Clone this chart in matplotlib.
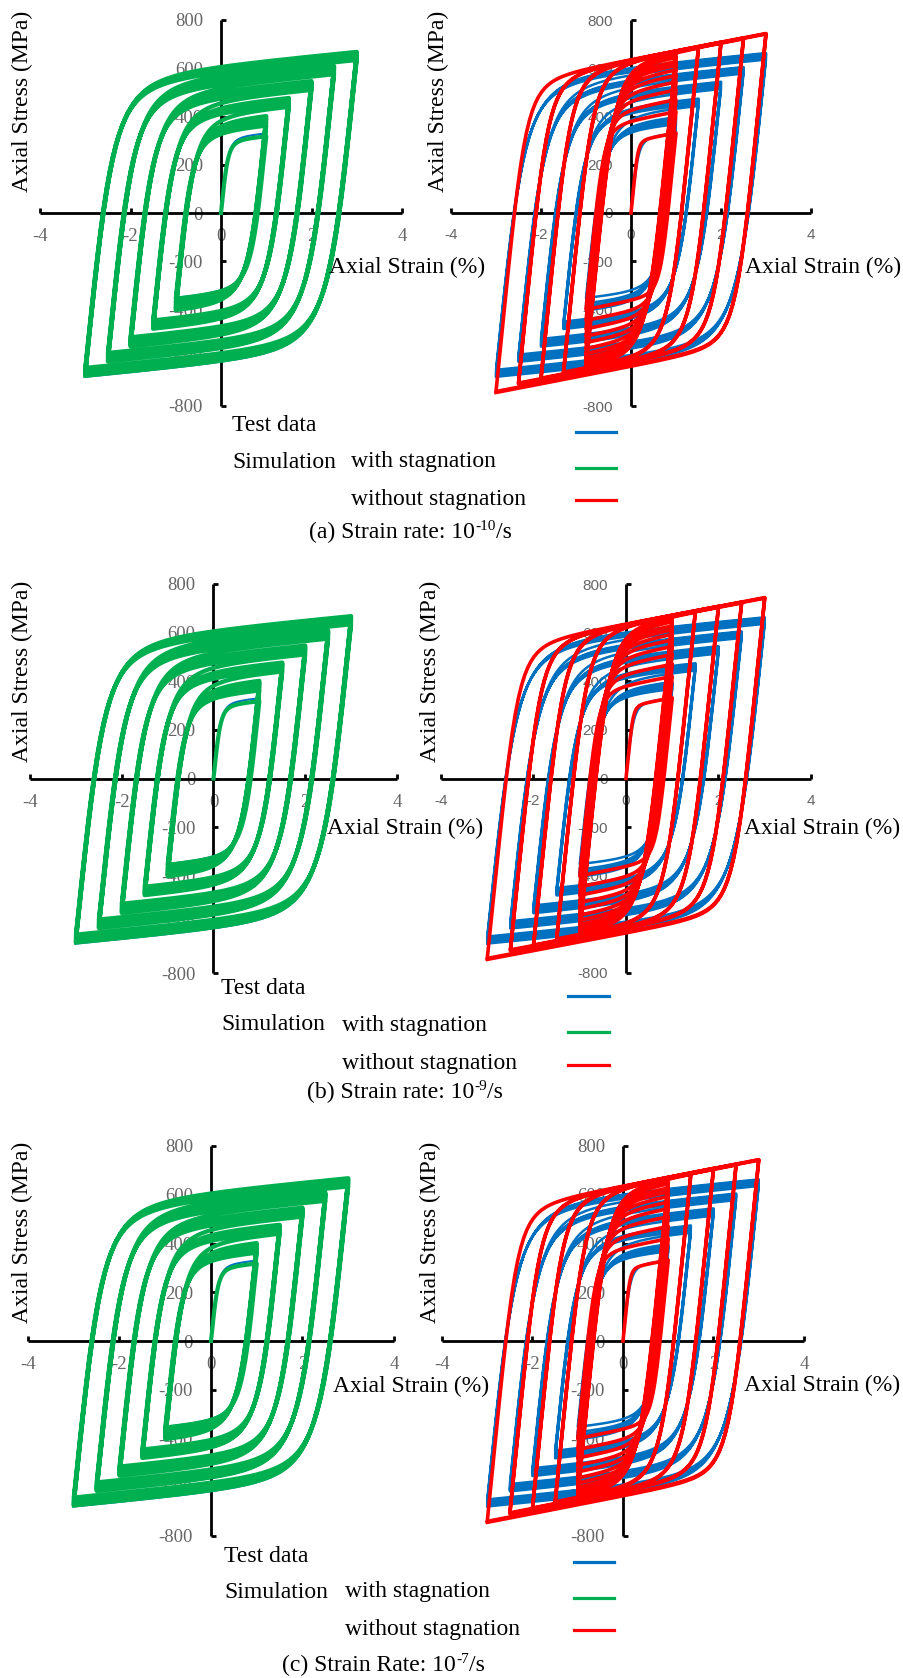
import numpy as np
import matplotlib
matplotlib.use('Agg')
import matplotlib.pyplot as plt
from matplotlib.lines import Line2D

W, H = 904, 1678

STRAIN_AMPS = [1.0, 1.5, 2.0, 2.5, 3.0]

TEST_TENS = [[330, 368, 378, 386, 392, 397],
             [444, 453, 460, 466, 470, 474],
             [514, 523, 530, 536, 540, 544],
             [578, 587, 593, 598, 602, 605],
             [636, 645, 651, 656, 660, 663]]
TEST_COMP = [[-352, -374, -385, -393, -399, -404],
             [-450, -460, -467, -473, -477, -481],
             [-522, -532, -539, -545, -550, -554],
             [-587, -597, -604, -609, -613, -617],
             [-650, -660, -666, -671, -675, -679]]

STAG_TENS = [[318, 362, 375, 386, 395, 402],
             [440, 450, 459, 466, 472, 477],
             [510, 520, 529, 536, 542, 547],
             [575, 585, 593, 600, 605, 609],
             [634, 644, 652, 658, 663, 668]]
STAG_COMP = [[-355, -370, -381, -390, -397, -403],
             [-445, -455, -464, -471, -476, -480],
             [-515, -526, -535, -542, -548, -553],
             [-580, -590, -598, -605, -611, -615],
             [-642, -651, -659, -665, -670, -675]]

NOSTAG_TENS = [[332, 420, 470, 510, 543, 570, 593, 612, 628, 645, 658],
               [684, 688],
               [705, 708],
               [722, 725],
               [742, 744]]
NOSTAG_COMP = [[-400, -445, -480, -510, -537, -562, -583, -600, -615, -628, -638],
               [-660, -664],
               [-685, -688],
               [-705, -708],
               [-740, -744]]

X_TICKS = [-4, -2, 0, 2, 4]
X_TICK_LABELS = ['-4', '-2', '0', '2', '4']
Y_TICKS = [-800, -600, -400, -200, 0, 200, 400, 600, 800]
Y_TICK_LABELS = ['-800', '-600', '-400', '-200', '0', '200', '400', '600', '800']

CAPTIONS = [('(a) Strain rate: 10', '-10', '/s'),
            ('(b) Strain rate: 10', '-9', '/s'),
            ('(c) Strain Rate: 10', '-7', '/s')]

BLUE, GREEN, RED = '#0070C0', '#00B050', '#FF0000'
SERIF = 'Liberation Serif'
SANS = 'Liberation Sans'

# layout in pixels: (x at -4, x at 4, y at 800, y at -800)
LEFT_BOX = [(40, 402, 20, 406), (30, 397, 584, 973), (28, 394, 1146, 1536)]
RIGHT_BOX = [(451, 811, 20, 406), (441, 811, 584, 973), (442, 804, 1146, 1536)]
RIGHT_TICK_FONT = [SANS, SANS, SERIF]
YLAB = [((22, 101), (438, 101)), ((22, 671), (430, 671)), ((22, 1232), (430, 1232))]
XLAB = [((329, 267), (745, 267)), ((327, 828), (744, 828)), ((333, 1386), (744, 1385))]
LEG_TEXT_X = [(232, 351), (221, 342), (224, 345)]
LEG_TEXT_Y = [(425, 462, 499), (988, 1025, 1063), (1556, 1592, 1629)]
LEG_LINE_X = [(576, 616), (568, 609), (574, 614)]
LEG_LINE_Y = [(432, 468, 500), (996, 1032, 1065), (1562, 1598, 1630)]
CAP_POS = [(309, 538), (307, 1098), (282, 1671)]


def branch(e0, s0, e1, s1, E, Eh, R, n=90):
    # Menegotto-Pinto shaped branch between two reversal points
    dt = abs(e1 - e0)
    st = abs(s1 - s0)
    Q = max(st - Eh * dt, 1.0)
    d = np.linspace(0, dt, n)
    x = (E - Eh) * d / Q
    f = Eh * d + Q * x / (1 + x ** R) ** (1.0 / R)
    f = f * st / f[-1]
    sg = np.sign(e1 - e0)
    return e0 + sg * d, s0 + sg * f


def hysteresis(amps, tens, comp, E, Eh, R):
    e, s = [0.0], [0.0]
    for a, tl, cl in zip(amps, tens, comp):
        for t, c in zip(tl, cl):
            for et, stt in ((a, t), (-a, c)):
                xe, ys = branch(e[-1], s[-1], et, stt, E, Eh, R)
                e.extend(xe[1:])
                s.extend(ys[1:])
    return np.array(e), np.array(s)


def fx(x):
    return x / W


def fy(y):
    return 1 - y / H


def make_axes(fig, box, font):
    x0, x1, y0, y1 = box
    ax = fig.add_axes([x0 / W, 1 - y1 / H, (x1 - x0) / W, (y1 - y0) / H])
    ax.patch.set_visible(False)
    ax.set_xlim(-4, 4)
    ax.set_ylim(-800, 800)
    for sp in ['top', 'right']:
        ax.spines[sp].set_visible(False)
    for sp in ['left', 'bottom']:
        ax.spines[sp].set_position(('data', 0))
        ax.spines[sp].set_linewidth(2)
        ax.spines[sp].set_capstyle('butt')
    ax.set_xticks(X_TICKS)
    ax.set_yticks(Y_TICKS)
    size = 13.5 if font == SERIF else 11
    ax.set_xticklabels(X_TICK_LABELS, fontfamily=font, fontsize=size)
    ax.set_yticklabels(Y_TICK_LABELS, fontfamily=font, fontsize=size)
    ax.tick_params(direction='in', length=3.5, width=2, color='k',
                   labelcolor='#666666')
    ax.tick_params(axis='x', pad=11)
    ax.tick_params(axis='y', pad=13)
    return ax


def main():
    e_t, s_t = hysteresis(STRAIN_AMPS, TEST_TENS, TEST_COMP, 1800, 18, 2.6)
    e_g, s_g = hysteresis(STRAIN_AMPS, STAG_TENS, STAG_COMP, 1800, 18, 2.6)
    e_r, s_r = hysteresis(STRAIN_AMPS, NOSTAG_TENS, NOSTAG_COMP, 1850, 36, 4.0)

    fig = plt.figure(figsize=(W / 100, H / 100), dpi=100)
    renderer = fig.canvas.get_renderer()
    tk = dict(fontsize=17, family=SERIF)

    for r in range(3):
        axl = make_axes(fig, LEFT_BOX[r], SERIF)
        axl.plot(e_t, s_t, color=BLUE, lw=1.5, zorder=3, clip_on=False)
        axl.plot(e_g, s_g, color=GREEN, lw=3.0, zorder=3, clip_on=False)

        axr = make_axes(fig, RIGHT_BOX[r], RIGHT_TICK_FONT[r])
        axr.plot(e_t, s_t, color=BLUE, lw=1.8, zorder=3, clip_on=False)
        axr.plot(e_r, s_r, color=RED, lw=2.6, zorder=3, clip_on=False)

        for (x, y) in YLAB[r]:
            fig.text(fx(x), fy(y), 'Axial Stress (MPa)', rotation=90,
                     ha='center', va='center', **tk)
        for (x, y) in XLAB[r]:
            fig.text(fx(x), fy(y), 'Axial Strain (%)', ha='left', va='center', **tk)

        xa, xb = LEG_TEXT_X[r]
        ya, yb, yc = LEG_TEXT_Y[r]
        fig.text(fx(xa), fy(ya), 'Test data', ha='left', va='center', **tk)
        fig.text(fx(xa), fy(yb), 'Simulation', ha='left', va='center', **tk)
        fig.text(fx(xb), fy(yb), 'with stagnation', ha='left', va='center', **tk)
        fig.text(fx(xb), fy(yc), 'without stagnation', ha='left', va='center', **tk)
        lx0, lx1 = LEG_LINE_X[r]
        for yy, col in zip(LEG_LINE_Y[r], [BLUE, GREEN, RED]):
            fig.add_artist(Line2D([fx(lx0), fx(lx1)], [fy(yy), fy(yy)],
                                  color=col, lw=2.3, transform=fig.transFigure))

        # caption with a small raised exponent
        cx, cy = CAP_POS[r]
        main_txt, sup_txt, tail_txt = CAPTIONS[r]
        t1 = fig.text(fx(cx), fy(cy), main_txt, ha='left', va='baseline', **tk)
        x1 = t1.get_window_extent(renderer).x1
        t2 = fig.text(x1 / W + 0.5 / W, fy(cy - 8), sup_txt, ha='left',
                      va='baseline', fontsize=11, family=SERIF)
        x2 = t2.get_window_extent(renderer).x1
        fig.text(x2 / W, fy(cy), tail_txt, ha='left', va='baseline', **tk)

    fig.savefig('out.png', dpi=100)


if __name__ == "__main__":
    main()
